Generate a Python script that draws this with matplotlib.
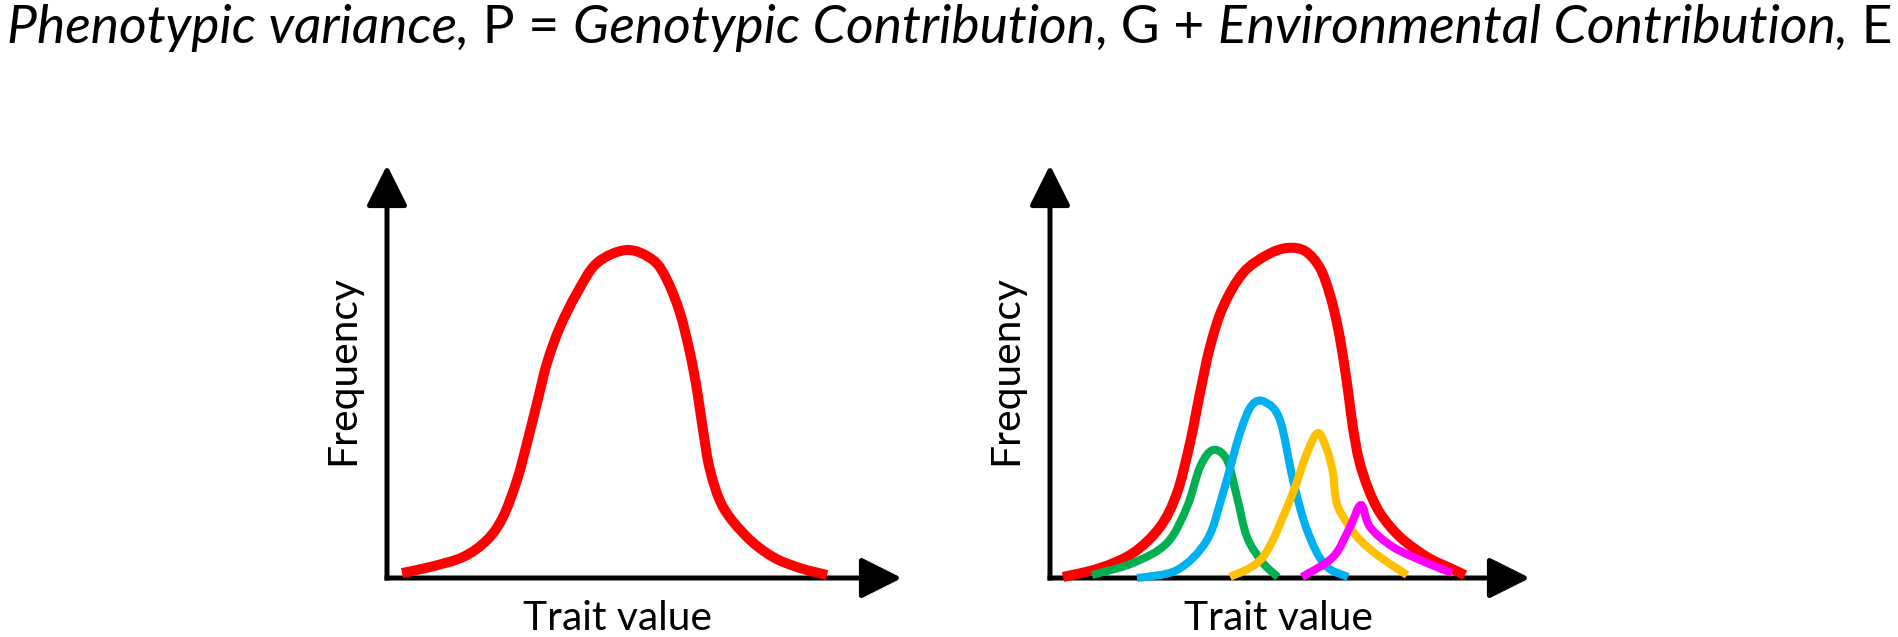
import matplotlib
matplotlib.use("Agg")
import matplotlib.pyplot as plt
import numpy as np
from matplotlib.path import Path
from matplotlib.patches import PathPatch

# ---------------- data (trait value, frequency; arbitrary units) ----------------
left_total_x = [1.5, 4.3, 7.6, 10.0, 11.6, 13.0, 14.0, 15.0, 16.0, 17.3, 19.0, 21.0, 24.0,
                26.6, 28.0, 29.3, 30.3, 31.0, 31.6, 32.3, 33.6, 36.0, 38.6, 41.3, 44.0]
left_total_y = [0.5, 1.1, 2.1, 3.8, 6.1, 9.8, 13.5, 17.5, 21.5, 25.1, 28.5, 31.5, 32.8,
                31.8, 29.8, 26.5, 22.5, 18.8, 14.8, 10.8, 7.1, 4.1, 2.1, 1.0, 0.3]

right_total_x = [1.3, 5.0, 8.3, 11.0, 12.7, 14.0, 15.0, 16.0, 17.3, 19.3, 21.7, 23.7,
                 25.5, 27.0, 28.0, 28.8, 29.4, 29.9, 30.3, 30.9, 31.8, 33.0,
                 35.0, 37.7, 40.0, 41.5]
right_total_y = [0.1, 1.0, 2.5, 5.1, 8.5, 13.5, 18.5, 23.1, 27.1, 30.5, 32.3, 33.0,
                 32.7, 31.0, 28.3, 25.0, 21.5, 18.0, 15.0, 11.8, 9.0, 6.5,
                 4.1, 2.1, 1.0, 0.3]

green_x = [4.2, 8.3, 11.7, 13.7, 15.0, 16.3, 17.7, 18.7, 19.7, 21.3, 22.8]
green_y = [0.3, 1.5, 3.5, 7.1, 11.1, 12.8, 11.8, 8.1, 4.1, 1.5, 0.1]

blue_x = [8.7, 12.7, 15.7, 17.3, 19.0, 20.2, 21.5, 23.0, 24.3, 25.7, 27.5, 29.8]
blue_y = [0.0, 0.8, 3.8, 8.5, 14.5, 17.3, 17.6, 15.8, 9.8, 4.8, 1.3, 0.1]

yellow_x = [18.0, 21.3, 24.0, 25.7, 26.8, 27.7, 28.3, 28.5, 28.8, 29.7, 31.0, 33.0, 35.7]
yellow_y = [0.1, 2.1, 7.8, 12.5, 14.5, 12.8, 10.5, 8.5, 7.1, 5.5, 3.8, 2.1, 0.3]

magenta_x = [25.2, 28.3, 30.0, 31.1, 32.0, 34.3, 37.7, 40.2]
magenta_y = [0.1, 2.1, 5.1, 7.3, 5.1, 3.1, 1.5, 0.5]

title_parts = ["Phenotypic variance,", " P = ", "Genotypic Contribution", ", G + ",
               "Environmental Contribution,", " E"]
title_italic = [True, False, True, False, True, False]
x_label = "Trait value"
y_label = "Frequency"

# ---------------- figure ----------------
W, H = 1899, 637
fig = plt.figure(figsize=(W / 100, H / 100), dpi=100)
fig.patch.set_facecolor("white")
renderer = fig.canvas.get_renderer()
FONT = "Lato"


def text_width(s, size, style="normal"):
    t = fig.text(0, 0, s, fontsize=size, family=FONT, style=style)
    w = t.get_window_extent(renderer).width
    t.remove()
    return w


# title (mixed italic / upright), fitted to the figure width
base = 30
total = sum(text_width(p, base, "italic" if it else "normal")
            for p, it in zip(title_parts, title_italic))
tsize = base * 1886 / total
x = 7
for p, it in zip(title_parts, title_italic):
    st = "italic" if it else "normal"
    fig.text(x / W, (H - 43) / H, p, fontsize=tsize, family=FONT, style=st,
             ha="left", va="baseline", color="black")
    x += text_width(p, tsize, st)

label_size = 30 * 189 / text_width(x_label, 30)


def make_panel(left_px, x_tip, y_tip):
    ax = fig.add_axes([left_px / W, (H - 578) / H, 540 / W, 420 / H])
    ax.set_xlim(0, 54)
    ax.set_ylim(0, 42)
    ax.axis("off")
    ap = dict(arrowstyle="-|>,head_length=1.0,head_width=0.5", mutation_scale=25.2,
              lw=3.6, color="black", shrinkA=0, shrinkB=0, capstyle="butt")
    ax.annotate("", xy=(0, y_tip), xytext=(0, -0.25), arrowprops=ap,
                annotation_clip=False, zorder=1)
    ax.annotate("", xy=(x_tip, 0), xytext=(-0.25, 0), arrowprops=ap,
                annotation_clip=False, zorder=1)
    ax.text(-4.4, 20.8, y_label, rotation=90, ha="center", va="center",
            fontsize=label_size, family=FONT, color="black")
    return ax


def curve(ax, xs, ys, color, lw, z):
    """Smooth curve drawn through the read points (Catmull-Rom as cubic Bezier path)."""
    P = np.column_stack([xs, ys]).astype(float)
    n = len(P)
    verts = [P[0]]
    codes = [Path.MOVETO]
    for i in range(n - 1):
        p0 = P[i - 1] if i > 0 else P[i]
        p1, p2 = P[i], P[i + 1]
        p3 = P[i + 2] if i + 2 < n else P[i + 1]
        verts += [p1 + (p2 - p0) / 6.0, p2 - (p3 - p1) / 6.0, p2]
        codes += [Path.CURVE4] * 3
    patch = PathPatch(Path(verts, codes), fill=False, edgecolor=color, lw=lw,
                      capstyle="butt", joinstyle="round", clip_on=False, zorder=z)
    ax.add_patch(patch)


axL = make_panel(387, 51.5, 41.3)
axL.text(23.05, -5.2, x_label, ha="center", va="baseline", fontsize=label_size,
         family=FONT, color="black")
curve(axL, left_total_x, left_total_y, "#FF0000", 7.2, 3)

axR = make_panel(1050, 48.0, 41.3)
axR.text(22.85, -5.2, x_label, ha="center", va="baseline", fontsize=label_size,
         family=FONT, color="black")
curve(axR, right_total_x, right_total_y, "#FF0000", 7.2, 3)
curve(axR, green_x, green_y, "#00B050", 5.8, 4)
curve(axR, blue_x, blue_y, "#00B0F0", 5.8, 5)
curve(axR, yellow_x, yellow_y, "#FFC000", 5.8, 6)
curve(axR, magenta_x, magenta_y, "#FF00FF", 5.8, 7)

fig.savefig("out.png", dpi=100, facecolor="white")
